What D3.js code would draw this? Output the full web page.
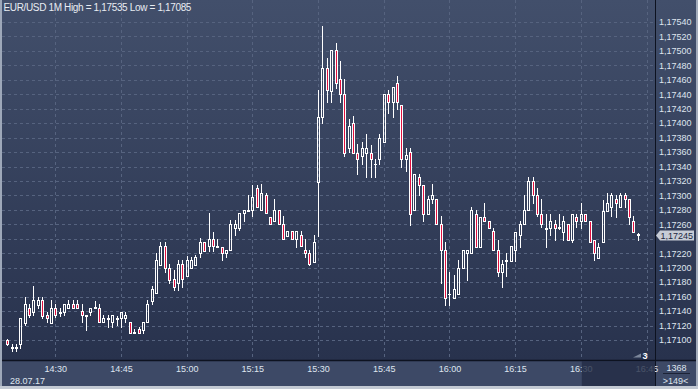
<!DOCTYPE html>
<html>
<head>
<meta charset="utf-8">
<script src="https://cdn.jsdelivr.net/npm/d3@7"></script>
<style>
  body { margin: 0; background: #ffffff; }
  svg { display: block; font-family: "Liberation Sans", Arial, sans-serif; }
</style>
</head>
<body>
<div id="chart"></div>
<script>
// EUR/USD 1 minute candles, 28.07.17, first candle at 14:19
const startTime = "2017-07-28T14:19";

const opens = [
  1.17100, 1.17090, 1.17089, 1.17094, 1.17123, 1.17144, 1.17139, 1.17148, 1.17155, 1.17134,
  1.17123, 1.17144, 1.17139, 1.17139, 1.17144, 1.17150, 1.17150, 1.17140, 1.17134, 1.17139,
  1.17144, 1.17144, 1.17125, 1.17130, 1.17125, 1.17130, 1.17130, 1.17130, 1.17125, 1.17110,
  1.17115, 1.17114, 1.17125, 1.17154, 1.17165, 1.17204, 1.17230, 1.17200, 1.17184, 1.17179,
  1.17205, 1.17188, 1.17200, 1.17204, 1.17220, 1.17235, 1.17230, 1.17240, 1.17230, 1.17229,
  1.17220, 1.17224, 1.17255, 1.17255, 1.17276, 1.17280, 1.17280, 1.17310, 1.17280, 1.17301,
  1.17270, 1.17264, 1.17280, 1.17260, 1.17244, 1.17251, 1.17240, 1.17245, 1.17224, 1.17221,
  1.17208, 1.17319, 1.17409, 1.17476, 1.17445, 1.17501, 1.17461, 1.17440, 1.17365, 1.17400,
  1.17359, 1.17355, 1.17359, 1.17359, 1.17344, 1.17350, 1.17374, 1.17440, 1.17430, 1.17455,
  1.17425, 1.17350, 1.17360, 1.17280, 1.17325, 1.17315, 1.17275, 1.17295, 1.17295, 1.17260,
  1.17224, 1.17164, 1.17158, 1.17164, 1.17199, 1.17220, 1.17220, 1.17275, 1.17229, 1.17270,
  1.17265, 1.17251, 1.17224, 1.17194, 1.17211, 1.17210, 1.17224, 1.17245, 1.17260, 1.17280,
  1.17320, 1.17301, 1.17275, 1.17255, 1.17255, 1.17260, 1.17255, 1.17250, 1.17260, 1.17239,
  1.17270, 1.17264, 1.17275, 1.17264, 1.17239, 1.17214, 1.17235, 1.17279, 1.17284, 1.17295,
  1.17284, 1.17301, 1.17295, 1.17264, 1.17246
];
const highs = [
  1.17101, 1.17094, 1.17094, 1.17130, 1.17159, 1.17150, 1.17175, 1.17159, 1.17159, 1.17139,
  1.17155, 1.17150, 1.17144, 1.17150, 1.17155, 1.17155, 1.17155, 1.17150, 1.17134, 1.17144,
  1.17154, 1.17150, 1.17134, 1.17134, 1.17134, 1.17133, 1.17139, 1.17139, 1.17125, 1.17115,
  1.17118, 1.17125, 1.17155, 1.17175, 1.17221, 1.17236, 1.17236, 1.17205, 1.17197, 1.17211,
  1.17211, 1.17216, 1.17215, 1.17218, 1.17241, 1.17235, 1.17276, 1.17250, 1.17240, 1.17229,
  1.17224, 1.17266, 1.17266, 1.17276, 1.17280, 1.17301, 1.17314, 1.17314, 1.17316, 1.17304,
  1.17270, 1.17295, 1.17280, 1.17271, 1.17251, 1.17251, 1.17251, 1.17251, 1.17240, 1.17224,
  1.17245, 1.17446, 1.17535, 1.17490, 1.17501, 1.17511, 1.17486, 1.17461, 1.17406, 1.17410,
  1.17371, 1.17374, 1.17385, 1.17370, 1.17350, 1.17385, 1.17440, 1.17446, 1.17450, 1.17465,
  1.17425, 1.17365, 1.17365, 1.17330, 1.17330, 1.17315, 1.17299, 1.17316, 1.17295, 1.17271,
  1.17236, 1.17194, 1.17190, 1.17211, 1.17224, 1.17224, 1.17284, 1.17280, 1.17270, 1.17290,
  1.17265, 1.17255, 1.17238, 1.17211, 1.17220, 1.17230, 1.17250, 1.17264, 1.17301, 1.17325,
  1.17325, 1.17310, 1.17295, 1.17275, 1.17275, 1.17266, 1.17275, 1.17271, 1.17260, 1.17275,
  1.17275, 1.17290, 1.17275, 1.17264, 1.17239, 1.17234, 1.17294, 1.17304, 1.17304, 1.17301,
  1.17304, 1.17304, 1.17295, 1.17271, 1.17248
];
const lows = [
  1.17093, 1.17085, 1.17085, 1.17089, 1.17121, 1.17132, 1.17134, 1.17144, 1.17131, 1.17125,
  1.17123, 1.17132, 1.17133, 1.17134, 1.17144, 1.17144, 1.17144, 1.17125, 1.17114, 1.17134,
  1.17144, 1.17125, 1.17125, 1.17118, 1.17118, 1.17121, 1.17118, 1.17125, 1.17110, 1.17110,
  1.17110, 1.17110, 1.17125, 1.17150, 1.17165, 1.17204, 1.17194, 1.17179, 1.17169, 1.17169,
  1.17174, 1.17188, 1.17200, 1.17204, 1.17215, 1.17223, 1.17223, 1.17223, 1.17228, 1.17211,
  1.17215, 1.17224, 1.17245, 1.17252, 1.17264, 1.17279, 1.17271, 1.17284, 1.17280, 1.17276,
  1.17260, 1.17264, 1.17260, 1.17240, 1.17244, 1.17240, 1.17229, 1.17230, 1.17215, 1.17204,
  1.17208, 1.17244, 1.17400, 1.17430, 1.17430, 1.17448, 1.17430, 1.17355, 1.17360, 1.17359,
  1.17330, 1.17344, 1.17326, 1.17326, 1.17326, 1.17344, 1.17374, 1.17414, 1.17409, 1.17419,
  1.17340, 1.17334, 1.17259, 1.17280, 1.17301, 1.17264, 1.17275, 1.17290, 1.17260, 1.17179,
  1.17149, 1.17149, 1.17158, 1.17164, 1.17199, 1.17183, 1.17220, 1.17229, 1.17229, 1.17265,
  1.17255, 1.17224, 1.17188, 1.17174, 1.17188, 1.17210, 1.17210, 1.17229, 1.17260, 1.17280,
  1.17290, 1.17271, 1.17257, 1.17229, 1.17245, 1.17239, 1.17254, 1.17239, 1.17239, 1.17235,
  1.17257, 1.17255, 1.17264, 1.17235, 1.17211, 1.17214, 1.17235, 1.17279, 1.17271, 1.17270,
  1.17284, 1.17284, 1.17261, 1.17250, 1.17238
];
const closes = [
  1.17094, 1.17089, 1.17090, 1.17130, 1.17150, 1.17134, 1.17155, 1.17155, 1.17133, 1.17130,
  1.17144, 1.17134, 1.17138, 1.17150, 1.17150, 1.17144, 1.17144, 1.17134, 1.17133, 1.17144,
  1.17145, 1.17125, 1.17130, 1.17129, 1.17134, 1.17129, 1.17139, 1.17134, 1.17110, 1.17111,
  1.17110, 1.17125, 1.17150, 1.17170, 1.17211, 1.17230, 1.17200, 1.17183, 1.17174, 1.17205,
  1.17184, 1.17211, 1.17211, 1.17215, 1.17235, 1.17223, 1.17240, 1.17230, 1.17229, 1.17220,
  1.17224, 1.17260, 1.17260, 1.17276, 1.17280, 1.17279, 1.17298, 1.17284, 1.17304, 1.17276,
  1.17260, 1.17280, 1.17260, 1.17240, 1.17251, 1.17240, 1.17251, 1.17230, 1.17221, 1.17205,
  1.17235, 1.17409, 1.17476, 1.17446, 1.17501, 1.17455, 1.17440, 1.17359, 1.17396, 1.17359,
  1.17350, 1.17365, 1.17365, 1.17350, 1.17343, 1.17380, 1.17440, 1.17430, 1.17450, 1.17430,
  1.17350, 1.17356, 1.17275, 1.17330, 1.17315, 1.17275, 1.17295, 1.17301, 1.17260, 1.17224,
  1.17158, 1.17163, 1.17170, 1.17199, 1.17224, 1.17224, 1.17280, 1.17229, 1.17270, 1.17265,
  1.17255, 1.17224, 1.17194, 1.17205, 1.17210, 1.17230, 1.17250, 1.17260, 1.17280, 1.17320,
  1.17301, 1.17275, 1.17260, 1.17254, 1.17264, 1.17255, 1.17256, 1.17264, 1.17239, 1.17275,
  1.17264, 1.17275, 1.17264, 1.17235, 1.17220, 1.17229, 1.17279, 1.17290, 1.17301, 1.17290,
  1.17301, 1.17295, 1.17270, 1.17250, 1.17245
];

const priceTicks = [
  1.17540, 1.17520, 1.17500, 1.17480, 1.17460, 1.17440, 1.17420, 1.17400, 1.17380, 1.17360,
  1.17340, 1.17320, 1.17300, 1.17280, 1.17260, 1.17240, 1.17220, 1.17200, 1.17180, 1.17160,
  1.17140, 1.17120, 1.17100
];
const timeTicks = ["14:30", "14:45", "15:00", "15:15", "15:30", "15:45", "16:00", "16:15", "16:30", "16:45"];
const dateLabel = "28.07.17";
const titleText = "EUR/USD 1M High = 1,17535 Low = 1,17085";
const lastPrice = 1.17245;
const zoomCount = "3";
const barsTotal = "1368";
const barsVisible = ">149<";

const W = 698, H = 389;
const plotRight = 655, plotBottom = 360;

const parseTime = d3.timeParse("%Y-%m-%dT%H:%M");
const start = parseTime(startTime);
const day = startTime.slice(0, 11);

const candles = opens.map((o, i) => ({
  t: d3.timeMinute.offset(start, i),
  o: o, h: highs[i], l: lows[i], c: closes[i]
}));

const x = d3.scaleTime()
  .domain([parseTime(day + "14:30"), parseTime(day + "16:45")])
  .range([55.3, 646.5]);

const y = d3.scaleLinear()
  .domain([1.171, 1.1754])
  .range([340, 22]);

const fmtPrice = p => d3.format(".5f")(p).replace(".", ",");

const svg = d3.select("#chart").append("svg")
  .attr("width", W)
  .attr("height", H);

const defs = svg.append("defs");
const grad = defs.append("linearGradient")
  .attr("id", "bg")
  .attr("gradientUnits", "userSpaceOnUse")
  .attr("x1", 0).attr("y1", 0).attr("x2", 0).attr("y2", plotBottom);
grad.append("stop").attr("offset", 0).attr("stop-color", "#424f6b");
grad.append("stop").attr("offset", 1).attr("stop-color", "#28324d");

defs.append("clipPath").attr("id", "plotClip")
  .append("rect").attr("x", 2).attr("y", 0)
  .attr("width", plotRight - 2).attr("height", plotBottom);

// Panels
svg.append("rect").attr("width", W).attr("height", plotBottom).attr("fill", "url(#bg)");
svg.append("rect").attr("x", 0).attr("y", plotBottom).attr("width", W).attr("height", H - plotBottom)
  .attr("fill", "#3d4966");

// Grid
const grid = svg.append("g")
  .attr("stroke", "#56637f")
  .attr("stroke-dasharray", "3,3")
  .attr("stroke-width", 1);

grid.selectAll(".hgrid")
  .data(priceTicks)
  .enter().append("line")
  .attr("x1", 2).attr("x2", plotRight)
  .attr("y1", d => Math.round(y(d)) + 0.5)
  .attr("y2", d => Math.round(y(d)) + 0.5);

grid.selectAll(".vgrid")
  .data(timeTicks)
  .enter().append("line")
  .attr("x1", d => Math.round(x(parseTime(day + d))) + 0.5)
  .attr("x2", d => Math.round(x(parseTime(day + d))) + 0.5)
  .attr("y1", 0).attr("y2", plotBottom);

// Candles
const cg = svg.append("g").attr("clip-path", "url(#plotClip)");

const px = d => Math.round(x(d.t));
const bodyTop = d => Math.round(y(Math.max(d.o, d.c)));
const bodyBot = d => Math.round(y(Math.min(d.o, d.c)));
const isDoji = d => bodyBot(d) - bodyTop(d) < 1;

// upper wick
cg.selectAll(".wickUp")
  .data(candles)
  .enter().append("line")
  .attr("x1", d => px(d) + 0.5).attr("x2", d => px(d) + 0.5)
  .attr("y1", d => Math.round(y(d.h)))
  .attr("y2", d => bodyTop(d))
  .attr("stroke", "#ffffff");

// lower wick
cg.selectAll(".wickDown")
  .data(candles)
  .enter().append("line")
  .attr("x1", d => px(d) + 0.5).attr("x2", d => px(d) + 0.5)
  .attr("y1", d => bodyBot(d) + 1)
  .attr("y2", d => Math.round(y(d.l)) + 1)
  .attr("stroke", "#ffffff");

// bodies
cg.selectAll(".body")
  .data(candles.filter(d => !isDoji(d)))
  .enter().append("rect")
  .attr("x", d => px(d) - 0.5)
  .attr("y", d => bodyTop(d) + 0.5)
  .attr("width", 2)
  .attr("height", d => bodyBot(d) - bodyTop(d))
  .attr("fill", d => d.c >= d.o ? "none" : "#e2103f")
  .attr("stroke", "#ffffff")
  .attr("stroke-width", 1);

// doji
cg.selectAll(".doji")
  .data(candles.filter(isDoji))
  .enter().append("line")
  .attr("x1", d => px(d) - 1).attr("x2", d => px(d) + 2)
  .attr("y1", d => bodyTop(d) + 0.5).attr("y2", d => bodyTop(d) + 0.5)
  .attr("stroke", "#ffffff");

// Separators and frame
svg.append("line").attr("x1", 0).attr("x2", W).attr("y1", plotBottom + 0.5).attr("y2", plotBottom + 0.5)
  .attr("stroke", "#0d1220").attr("stroke-width", 1.5);
svg.append("line").attr("x1", plotRight + 0.5).attr("x2", plotRight + 0.5).attr("y1", 0).attr("y2", H)
  .attr("stroke", "#0d1220").attr("stroke-width", 1);
svg.append("rect").attr("x", 0).attr("y", 0).attr("width", 2).attr("height", H).attr("fill", "#9ea8b9");
svg.append("rect").attr("x", W - 2).attr("y", 0).attr("width", 2).attr("height", H).attr("fill", "#a3acbb");
svg.append("rect").attr("x", 0).attr("y", H - 3).attr("width", W).attr("height", 3).attr("fill", "#c3c9d3");

// Title
svg.append("text")
  .attr("x", 3.5).attr("y", 11)
  .attr("fill", "#e8ecf2")
  .style("font-size", "10px")
  .style("letter-spacing", "-0.35px")
  .text(titleText);

// Price axis labels (the one under the last price marker is hidden by it)
const ly = Math.round(y(lastPrice)) + 0.5;
svg.append("g").selectAll("text")
  .data(priceTicks.filter(d => Math.abs(y(d) - ly) > 8))
  .enter().append("text")
  .attr("x", 659)
  .attr("y", d => y(d) + 3.3)
  .attr("fill", "#dfe5ef")
  .style("font-size", "9px")
  .text(d => fmtPrice(d));

// Time axis labels
svg.append("g").selectAll("text")
  .data(timeTicks)
  .enter().append("text")
  .attr("x", d => x(parseTime(day + d)) + 0.5)
  .attr("y", 372)
  .attr("text-anchor", "middle")
  .attr("fill", "#dfe5ef")
  .style("font-size", "9px")
  .text(d => d);

svg.append("text")
  .attr("x", 10).attr("y", 384)
  .attr("fill", "#dfe5ef")
  .style("font-size", "9px")
  .text(dateLabel);

// Scroll overlay on the time axis
svg.append("rect")
  .attr("x", x(parseTime(day + "16:30")) + 1).attr("y", plotBottom + 1)
  .attr("width", plotRight - x(parseTime(day + "16:30")) - 1).attr("height", H - 3 - plotBottom - 1)
  .attr("fill", "#232c45").attr("opacity", 0.8);

// Zoom marker
svg.append("path")
  .attr("d", "M633,357.5 L641,357.5 L641,353.5 Z")
  .attr("fill", "#7c879b");
svg.append("text")
  .attr("x", 645).attr("y", 358.5)
  .attr("text-anchor", "middle")
  .attr("fill", "#ffffff")
  .style("font-size", "9px")
  .style("font-weight", "bold")
  .text(zoomCount);

// Last price marker
svg.append("path")
  .attr("d", `M656,${ly} L660,${ly - 5} L694,${ly - 5} L694,${ly + 5} L660,${ly + 5} Z`)
  .attr("fill", "#c7ccd6");
svg.append("text")
  .attr("x", 660.5).attr("y", ly + 3.3)
  .attr("fill", "#1d2842")
  .style("font-size", "9px")
  .text(fmtPrice(lastPrice));

// Bars counter box
svg.append("text")
  .attr("x", 676.5).attr("y", 370.5)
  .attr("text-anchor", "middle")
  .attr("fill", "#dfe5ef")
  .style("font-size", "9px")
  .text(barsTotal);
svg.append("line")
  .attr("x1", 663).attr("x2", 690).attr("y1", 373.5).attr("y2", 373.5)
  .attr("stroke", "#1c2336");
svg.append("text")
  .attr("x", 675.5).attr("y", 383.5)
  .attr("text-anchor", "middle")
  .attr("fill", "#dfe5ef")
  .style("font-size", "9px")
  .text(barsVisible);
</script>
</body>
</html>
